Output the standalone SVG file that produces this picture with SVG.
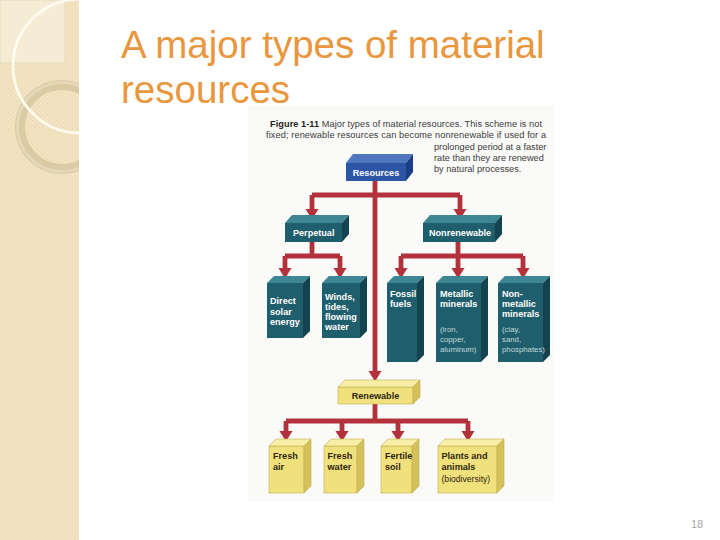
<svg xmlns="http://www.w3.org/2000/svg" width="720" height="540" viewBox="0 0 720 540">
<style>
.title{font-family:"Liberation Sans",Arial,sans-serif;font-size:38.5px;fill:#e9963d}
.cap{font-family:"Liberation Sans",Arial,sans-serif;font-size:9.2px;fill:#3a3a3a}
.capb{font-weight:bold;fill:#1e1e1e}
.lb{font-family:"Liberation Sans",Arial,sans-serif;font-weight:bold;font-size:9.1px;fill:#ffffff}
.sm{font-family:"Liberation Sans",Arial,sans-serif;font-size:7.8px;fill:#c2d8db}
.ly{font-family:"Liberation Sans",Arial,sans-serif;font-weight:bold;font-size:9.1px;fill:#2e2510}
.lys{font-family:"Liberation Sans",Arial,sans-serif;font-size:8.6px;fill:#2e2510}
.bf{fill:#2d55a6}.bt{fill:#4f77c0}.bs{fill:#1c3d85}
.tf{fill:#1f5e6c}.tt{fill:#3f8694}.ts{fill:#13434f}
.yf{fill:#f1e17c;stroke:#bfae50;stroke-width:0.6}.yt{fill:#f8eea6;stroke:#bfae50;stroke-width:0.6}.ys{fill:#d5c15a;stroke:#bfae50;stroke-width:0.6}
.con{fill:none;stroke:#b3313a;stroke-width:4.8}
.arr{fill:none;stroke:#b3313a;stroke-width:4.8;marker-end:url(#ah)}
</style>
<defs>
<pattern id="tex" width="4" height="4" patternUnits="userSpaceOnUse">
<rect width="4" height="4" fill="#f2e4c3"/>
<rect width="2" height="2" fill="#eedfbb"/>
<rect x="2" y="2" width="2" height="2" fill="#eedfbb"/>
</pattern>
<clipPath id="strip"><rect x="0" y="0" width="79" height="540"/></clipPath>
<marker id="ah" viewBox="0 -7 11 14" refX="0" refY="0" markerWidth="11" markerHeight="14" markerUnits="userSpaceOnUse" orient="auto">
<path d="M0,-6.5 L10.5,0 L0,6.5 z" fill="#b3313a"/>
</marker>
</defs>

<rect x="0" y="0" width="720" height="540" fill="#ffffff"/>

<g id="sidebar">
<rect x="0" y="0" width="79" height="540" fill="url(#tex)"/>
<g clip-path="url(#strip)">
<rect x="0" y="0" width="65" height="63" fill="#f6ecd5" stroke="#e3d5b5" stroke-width="0.8"/>
<circle cx="62" cy="127" r="42" fill="none" stroke="#d9cba4" stroke-width="10"/>
<circle cx="62" cy="127" r="44.5" fill="none" stroke="#e4d8b8" stroke-width="3"/>
<circle cx="80" cy="66" r="67" fill="none" stroke="#fffbee" stroke-width="2.8"/>
</g>
</g>

<g id="title">
<text class="title" x="121" y="58">A major types of material</text>
<text class="title" x="121" y="103">resources</text>
</g>

<rect id="photo" x="248" y="105" width="306" height="397" fill="#fafaf9"/>

<g id="caption">
<text class="cap" x="270" y="127" textLength="272"><tspan class="capb">Figure 1-11</tspan> Major types of material resources. This scheme is not</text>
<text class="cap" x="266" y="138" textLength="280">fixed; renewable resources can become nonrenewable if used for a</text>
<text class="cap" x="434" y="149.5">prolonged period at a faster</text>
<text class="cap" x="434" y="160.5">rate than they are renewed</text>
<text class="cap" x="434" y="171.5">by natural processes.</text>
</g>

<g id="connectors">
<path class="arr" d="M375,181 V371"/>
<path class="con" d="M312,195 H460"/>
<path class="arr" d="M312,195 V209"/>
<path class="arr" d="M460,195 V209"/>
<path class="con" d="M312,242 V256 M285,256 H340"/>
<path class="arr" d="M285,256 V268"/>
<path class="arr" d="M340,256 V268"/>
<path class="con" d="M458,242 V256 M401,256 H523"/>
<path class="arr" d="M401,256 V268"/>
<path class="arr" d="M458,256 V268"/>
<path class="arr" d="M523,256 V268"/>
<path class="con" d="M375,404 V421 M286,421 H468"/>
<path class="arr" d="M286,421 V431"/>
<path class="arr" d="M342,421 V431"/>
<path class="arr" d="M398,421 V431"/>
<path class="arr" d="M468,421 V431"/>
</g>

<g id="resources">
<rect class="bf" x="346" y="163" width="60" height="18"/>
<polygon class="bt" points="346,163 353,154 413,154 406,163"/>
<polygon class="bs" points="406,163 413,154 413,172 406,181"/>
<text class="lb" x="376" y="175.5" text-anchor="middle">Resources</text>
</g>

<g id="perpetual">
<rect class="tf" x="285" y="223" width="57" height="19"/>
<polygon class="tt" points="285,223 292,215 349,215 342,223"/>
<polygon class="ts" points="342,223 349,215 349,234 342,242"/>
<text class="lb" x="293" y="236">Perpetual</text>
</g>

<g id="nonrenewable">
<rect class="tf" x="423" y="223" width="72" height="19"/>
<polygon class="tt" points="423,223 430,215 502,215 495,223"/>
<polygon class="ts" points="495,223 502,215 502,234 495,242"/>
<text class="lb" x="429" y="236">Nonrenewable</text>
</g>

<g id="direct-solar">
<rect class="tf" x="267" y="283" width="36" height="55"/>
<polygon class="tt" points="267,283 274,276 310,276 303,283"/>
<polygon class="ts" points="303,283 310,276 310,331 303,338"/>
<text class="lb" x="270" y="304">Direct</text>
<text class="lb" x="270" y="314.5">solar</text>
<text class="lb" x="270" y="325">energy</text>
</g>

<g id="winds">
<rect class="tf" x="322" y="283" width="38" height="55"/>
<polygon class="tt" points="322,283 329,276 367,276 360,283"/>
<polygon class="ts" points="360,283 367,276 367,331 360,338"/>
<text class="lb" x="325" y="299.5">Winds,</text>
<text class="lb" x="325" y="309.7">tides,</text>
<text class="lb" x="325" y="319.9">flowing</text>
<text class="lb" x="325" y="330">water</text>
</g>

<g id="fossil">
<rect class="tf" x="387" y="283" width="30" height="79"/>
<polygon class="tt" points="387,283 394,276 424,276 417,283"/>
<polygon class="ts" points="417,283 424,276 424,355 417,362"/>
<text class="lb" x="390" y="297">Fossil</text>
<text class="lb" x="390" y="307">fuels</text>
</g>

<g id="metallic">
<rect class="tf" x="436" y="283" width="45" height="79"/>
<polygon class="tt" points="436,283 443,276 488,276 481,283"/>
<polygon class="ts" points="481,283 488,276 488,355 481,362"/>
<text class="lb" x="440" y="297">Metallic</text>
<text class="lb" x="440" y="307">minerals</text>
<text class="sm" x="440" y="331.5">(iron,</text>
<text class="sm" x="440" y="342">copper,</text>
<text class="sm" x="440" y="352">aluminum)</text>
</g>

<g id="nonmetallic">
<rect class="tf" x="498" y="283" width="45" height="79"/>
<polygon class="tt" points="498,283 505,276 550,276 543,283"/>
<polygon class="ts" points="543,283 550,276 550,355 543,362"/>
<text class="lb" x="502" y="297">Non-</text>
<text class="lb" x="502" y="307">metallic</text>
<text class="lb" x="502" y="317">minerals</text>
<text class="sm" x="502" y="331.5">(clay,</text>
<text class="sm" x="502" y="342">sand,</text>
<text class="sm" x="502" y="352">phosphates)</text>
</g>

<g id="renewable">
<rect class="yf" x="338" y="387" width="75" height="17"/>
<polygon class="yt" points="338,387 345,380 420,380 413,387"/>
<polygon class="ys" points="413,387 420,380 420,397 413,404"/>
<text class="ly" x="375.5" y="398.5" text-anchor="middle">Renewable</text>
</g>

<g id="fresh-air">
<rect class="yf" x="269" y="446" width="35" height="47"/>
<polygon class="yt" points="269,446 276,439 311,439 304,446"/>
<polygon class="ys" points="304,446 311,439 311,486 304,493"/>
<text class="ly" x="273" y="458.5">Fresh</text>
<text class="ly" x="273" y="469.5">air</text>
</g>

<g id="fresh-water">
<rect class="yf" x="324" y="446" width="33" height="47"/>
<polygon class="yt" points="324,446 331,439 364,439 357,446"/>
<polygon class="ys" points="357,446 364,439 364,486 357,493"/>
<text class="ly" x="327.5" y="458.5">Fresh</text>
<text class="ly" x="327.5" y="469.5">water</text>
</g>

<g id="fertile-soil">
<rect class="yf" x="381" y="446" width="31" height="47"/>
<polygon class="yt" points="381,446 388,439 419,439 412,446"/>
<polygon class="ys" points="412,446 419,439 419,486 412,493"/>
<text class="ly" x="385" y="458.5">Fertile</text>
<text class="ly" x="385" y="469.5">soil</text>
</g>

<g id="plants-animals">
<rect class="yf" x="438" y="446" width="59" height="47"/>
<polygon class="yt" points="438,446 445,439 504,439 497,446"/>
<polygon class="ys" points="497,446 504,439 504,486 497,493"/>
<text class="ly" x="441.5" y="458.5">Plants and</text>
<text class="ly" x="441.5" y="469.5">animals</text>
<text class="lys" x="441.5" y="481.5">(biodiversity)</text>
</g>

<text id="page-number" x="691" y="528" font-family="'Liberation Sans',Arial,sans-serif" font-size="11" fill="#a8a8a8">18</text>
</svg>
